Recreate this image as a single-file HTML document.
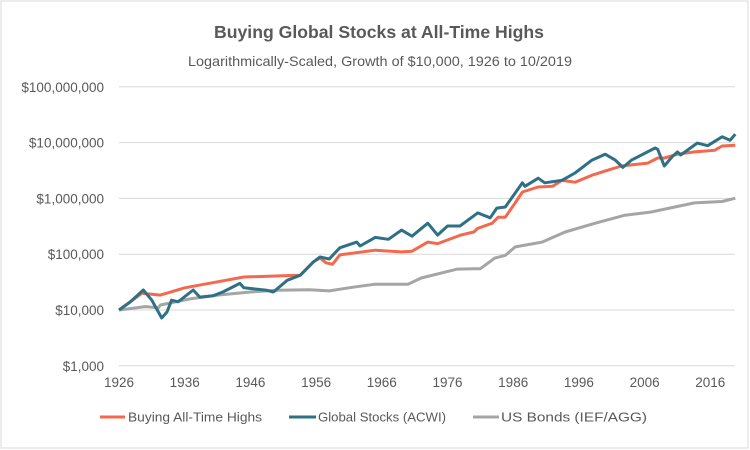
<!DOCTYPE html>
<html><head><meta charset="utf-8"><style>
body{margin:0;background:#fff;}
svg{display:block;font-family:"Liberation Sans",sans-serif;}
</style></head><body>
<svg id="chart" width="750" height="450">
<rect x="1" y="1" width="747" height="447" fill="#fff" stroke="#d9d9d9"/>
<text x="214" y="38" font-size="17.5" font-weight="bold" fill="#595959" textLength="330" lengthAdjust="spacingAndGlyphs">Buying Global Stocks at All-Time Highs</text>
<text x="188" y="66" font-size="14" fill="#595959" textLength="384" lengthAdjust="spacingAndGlyphs">Logarithmically-Scaled, Growth of $10,000, 1926 to 10/2019</text>
<g id="grid"></g><g id="series"></g>
<g>
<line x1="100" y1="417" x2="125" y2="417" stroke="#f4694e" stroke-width="3"/>
<text x="128" y="421.5" font-size="13" fill="#595959" textLength="134" lengthAdjust="spacingAndGlyphs">Buying All-Time Highs</text>
<line x1="289" y1="417" x2="316" y2="417" stroke="#2e7187" stroke-width="3"/>
<text x="318" y="421.5" font-size="13" fill="#595959" textLength="128" lengthAdjust="spacingAndGlyphs">Global Stocks (ACWI)</text>
<line x1="473" y1="417" x2="499" y2="417" stroke="#a5a5a5" stroke-width="3"/>
<text x="501" y="421.5" font-size="13" fill="#595959" textLength="146" lengthAdjust="spacingAndGlyphs">US Bonds (IEF/AGG)</text>
</g>
</svg>
<script>
const yTickValues=[1000,10000,100000,1000000,10000000,100000000];
const yTickLabels=["$1,000","$10,000","$100,000","$1,000,000","$10,000,000","$100,000,000"];
const xTickYears=[1926,1936,1946,1956,1966,1976,1986,1996,2006,2016];
const acwiYears=[1926,1927.7,1929.7,1931,1932.5,1933.3,1934,1935,1937.3,1938.3,1940.3,1941.8,1944.4,1945,1946.4,1948.5,1949.5,1951.6,1953.6,1955.6,1956.6,1958,1959.6,1962.2,1962.7,1965,1967,1969,1970.6,1973,1974.5,1976,1977.9,1980.6,1982.5,1983.5,1984.8,1986.3,1987.4,1987.8,1989.8,1990.8,1993.4,1995.4,1998,2000,2001.5,2002.7,2004,2007.6,2008,2009,2010.2,2011,2011.5,2014,2015.6,2017.8,2019,2019.8];
const acwiValues=[10000,13900,22800,15000,7200,9200,15000,14000,22800,17000,18000,21000,30000,25000,24000,22500,21000,34000,42000,73000,89000,82000,130000,165000,140000,200000,185000,270000,210000,360000,220000,320000,320000,550000,450000,670000,700000,1250000,1900000,1650000,2300000,1900000,2100000,2850000,4850000,6200000,4900000,3600000,4850000,8000000,7600000,3800000,5600000,6800000,6000000,9800000,8800000,12700000,11000000,14200000];
const athYears=[1926,1929.5,1932.3,1936,1941,1945,1951,1953.6,1955.6,1956.6,1957.5,1958.5,1959.6,1965,1969,1970.6,1973,1974.5,1978,1980,1980.6,1982.8,1983.7,1984.8,1986.3,1987.4,1989.8,1992,1993.4,1995.4,1998,2000.4,2002.5,2006.5,2008,2009,2011,2013.6,2016.7,2017.8,2019.8];
const athValues=[10000,20000,18500,25000,32000,39000,41000,42000,73000,85000,70000,66000,97000,118000,110000,113000,165000,155000,220000,250000,290000,360000,460000,460000,830000,1300000,1600000,1650000,2100000,1950000,2600000,3200000,3800000,4300000,5300000,5300000,6200000,6800000,7300000,8700000,9000000];
const bondYears=[1926,1930,1932,1932.3,1936.8,1941,1946,1950,1955,1958,1961.5,1965,1970,1972,1977.5,1980,1981,1983.2,1984.8,1986.3,1990.4,1993.9,1998.5,2003,2007,2010.6,2013.6,2017.8,2019.8];
const bondValues=[10000,11500,11000,12300,15800,18500,21000,22500,23000,22000,25500,29000,29000,37500,54000,55000,55000,85000,95000,135000,165000,250000,360000,500000,570000,700000,830000,880000,1010000];
const NS="http://www.w3.org/2000/svg";
function xScale(yr){return 119+(yr-1926)*6.57;}
function yScale(v){return 310-Math.log10(v/10000)*55.8;}
const grid=document.getElementById('grid');
yTickValues.forEach((v,i)=>{
  const y=yScale(v);
  const l=document.createElementNS(NS,'line');
  l.setAttribute('x1',119);l.setAttribute('x2',735);l.setAttribute('y1',y);l.setAttribute('y2',y);
  l.setAttribute('stroke','#d9d9d9');l.setAttribute('stroke-width','1');
  
  
  grid.appendChild(l);
  const t=document.createElementNS(NS,'text');
  t.setAttribute('x',104);t.setAttribute('y',y+5);t.setAttribute('text-anchor','end');
  t.setAttribute('font-size','13.5');t.setAttribute('fill','#595959');
  t.textContent=yTickLabels[i];
  
  
  grid.appendChild(t);
});
xTickYears.forEach(yr=>{
  const t=document.createElementNS(NS,'text');
  t.setAttribute('x',xScale(yr));t.setAttribute('y',387);t.setAttribute('text-anchor','middle');
  t.setAttribute('font-size','13.5');t.setAttribute('fill','#595959');
  t.textContent=yr;
  
  
  grid.appendChild(t);
});
const sg=document.getElementById('series');
function draw(xs,vs,color,name){
  const p=document.createElementNS(NS,'polyline');
  p.setAttribute('points',xs.map((x,i)=>xScale(x).toFixed(1)+','+yScale(vs[i]).toFixed(1)).join(' '));
  p.setAttribute('fill','none');p.setAttribute('stroke',color);p.setAttribute('stroke-width','3');
  p.setAttribute('stroke-linejoin','round');
  
  
  sg.appendChild(p);
}
draw(bondYears,bondValues,'#a5a5a5','series-us-bonds');
draw(athYears,athValues,'#f4694e','series-buying-ath');
draw(acwiYears,acwiValues,'#2e7187','series-global-stocks');
</script>
</body></html>
